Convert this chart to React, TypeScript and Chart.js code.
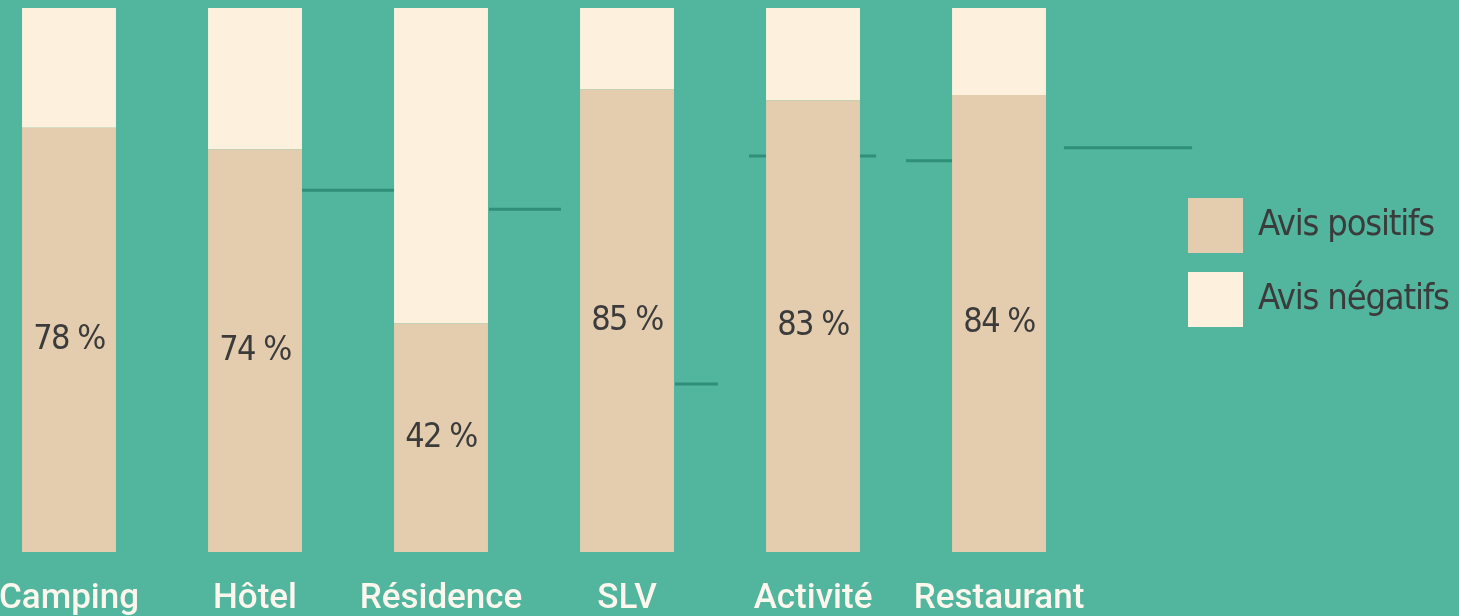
import React, { useEffect, useRef } from 'react';
import { Chart, registerables } from 'chart.js';

Chart.register(...registerables);

// ---- data ----
const categories = ['Camping', 'Hôtel', 'Résidence', 'SLV', 'Activité', 'Restaurant'];
const positifs = [78, 74, 42, 85, 83, 84];
const negatifs = [22, 26, 58, 15, 17, 16];
const seriesNames = ['Avis positifs', 'Avis négatifs'];
// decorative dark-teal segments (x in category index units, y in %)
const segStart = [1.253, 2.258, 3.258, 3.656, 4.5, 5.349];
const segEnd = [1.753, 2.645, 3.489, 4.339, 4.747, 6.038];
const segLevel = [66.5, 63.0, 30.9, 72.8, 71.9, 74.3];

// ---- styles ----
const BG = '#52b59e';
const POS = '#e3cdae';
const NEG = '#fdf1dd';
const SEG = '#2f8f78';
const TXT = '#3b3b3b';
const AXIS_TXT = '#fdf7ee';
const NARROW = '"DejaVu Sans Condensed", "DejaVu Sans", sans-serif';
const ROBOTO = 'Roboto, "DejaVu Sans", sans-serif';

const valueLabels = {
  id: 'valueLabels',
  afterDatasetsDraw(chart: any) {
    const ctx = chart.ctx;
    const meta = chart.getDatasetMeta(0);
    ctx.save();
    ctx.fillStyle = TXT;
    ctx.font = `34px ${NARROW}`;
    (ctx as any).letterSpacing = '-1.5px';
    ctx.textAlign = 'center';
    ctx.textBaseline = 'middle';
    meta.data.forEach((bar: any, i: number) => {
      const y = (bar.y + bar.base) / 2;
      ctx.fillText(`${positifs[i]} %`, bar.x, y);
    });
    ctx.restore();
  },
};

const sideLegend = {
  id: 'sideLegend',
  afterDraw(chart: any) {
    const ctx = chart.ctx;
    const colors = [POS, NEG];
    const boxX = 1188;
    const boxY0 = 198;
    const box = 55;
    const step = 74;
    ctx.save();
    seriesNames.forEach((name, i) => {
      const y = boxY0 + i * step;
      ctx.fillStyle = colors[i];
      ctx.fillRect(boxX, y, box, box);
      ctx.fillStyle = TXT;
      ctx.font = `36px ${NARROW}`;
      (ctx as any).letterSpacing = '-1.2px';
      ctx.textAlign = 'left';
      ctx.textBaseline = 'middle';
      ctx.fillText(name, boxX + box + 15, y + box / 2);
    });
    ctx.restore();
  },
};

export default function App() {
  const ref = useRef<HTMLCanvasElement>(null);

  useEffect(() => {
    document.body.style.margin = '0';
    if (!ref.current) return;
    const barCommon = {
      type: 'bar' as const,
      stack: 'avis',
      order: 0,
      categoryPercentage: 1,
      barPercentage: 0.505,
      borderWidth: 0,
    };
    const segDatasets = segStart.map((s, i) => ({
      type: 'line' as const,
      label: `seg${i}`,
      data: [
        { x: s, y: segLevel[i] },
        { x: segEnd[i], y: segLevel[i] },
      ],
      borderColor: SEG,
      borderWidth: 3,
      pointRadius: 0,
      stack: `seg${i}`,
      order: 5,
      clip: false as any,
    }));
    const chart = new Chart(ref.current, {
      type: 'bar',
      data: {
        datasets: [
          {
            ...barCommon,
            label: seriesNames[0],
            data: positifs.map((v, i) => ({ x: i, y: v })),
            backgroundColor: POS,
          },
          {
            ...barCommon,
            label: seriesNames[1],
            data: negatifs.map((v, i) => ({ x: i, y: v })),
            backgroundColor: NEG,
          },
          ...segDatasets,
        ] as any,
      },
      options: {
        animation: false,
        responsive: false,
        maintainAspectRatio: false,
        layout: { padding: { top: 8, left: 0, right: 0, bottom: 0 } },
        plugins: {
          legend: { display: false },
          tooltip: { enabled: false },
        },
        scales: {
          x: {
            type: 'linear',
            offset: false,
            min: -0.371,
            max: 7.473,
            grid: { display: false },
            border: { display: false },
            afterBuildTicks: (s: any) => {
              s.ticks = categories.map((_, i) => ({ value: i }));
            },
            afterFit: (s: any) => {
              s.paddingLeft = 0;
              s.paddingRight = 0;
              s.height = 64;
            },
            ticks: {
              autoSkip: false,
              maxRotation: 0,
              padding: 18,
              color: AXIS_TXT,
              font: { family: ROBOTO, size: 35, weight: '500' as any, lineHeight: 1.2 },
              callback: (v: any) => categories[v] ?? '',
            },
          },
          y: {
            stacked: true,
            min: 0,
            max: 100,
            display: false,
          },
        },
      } as any,
      plugins: [valueLabels, sideLegend],
    });
    return () => chart.destroy();
  }, []);

  return (
    <div style={{ position: 'absolute', left: 0, top: 0, width: 1459, height: 616, background: BG, overflow: 'hidden' }}>
      <canvas ref={ref} width={1459} height={616} style={{ display: 'block', width: 1459, height: 616 }} />
    </div>
  );
}
